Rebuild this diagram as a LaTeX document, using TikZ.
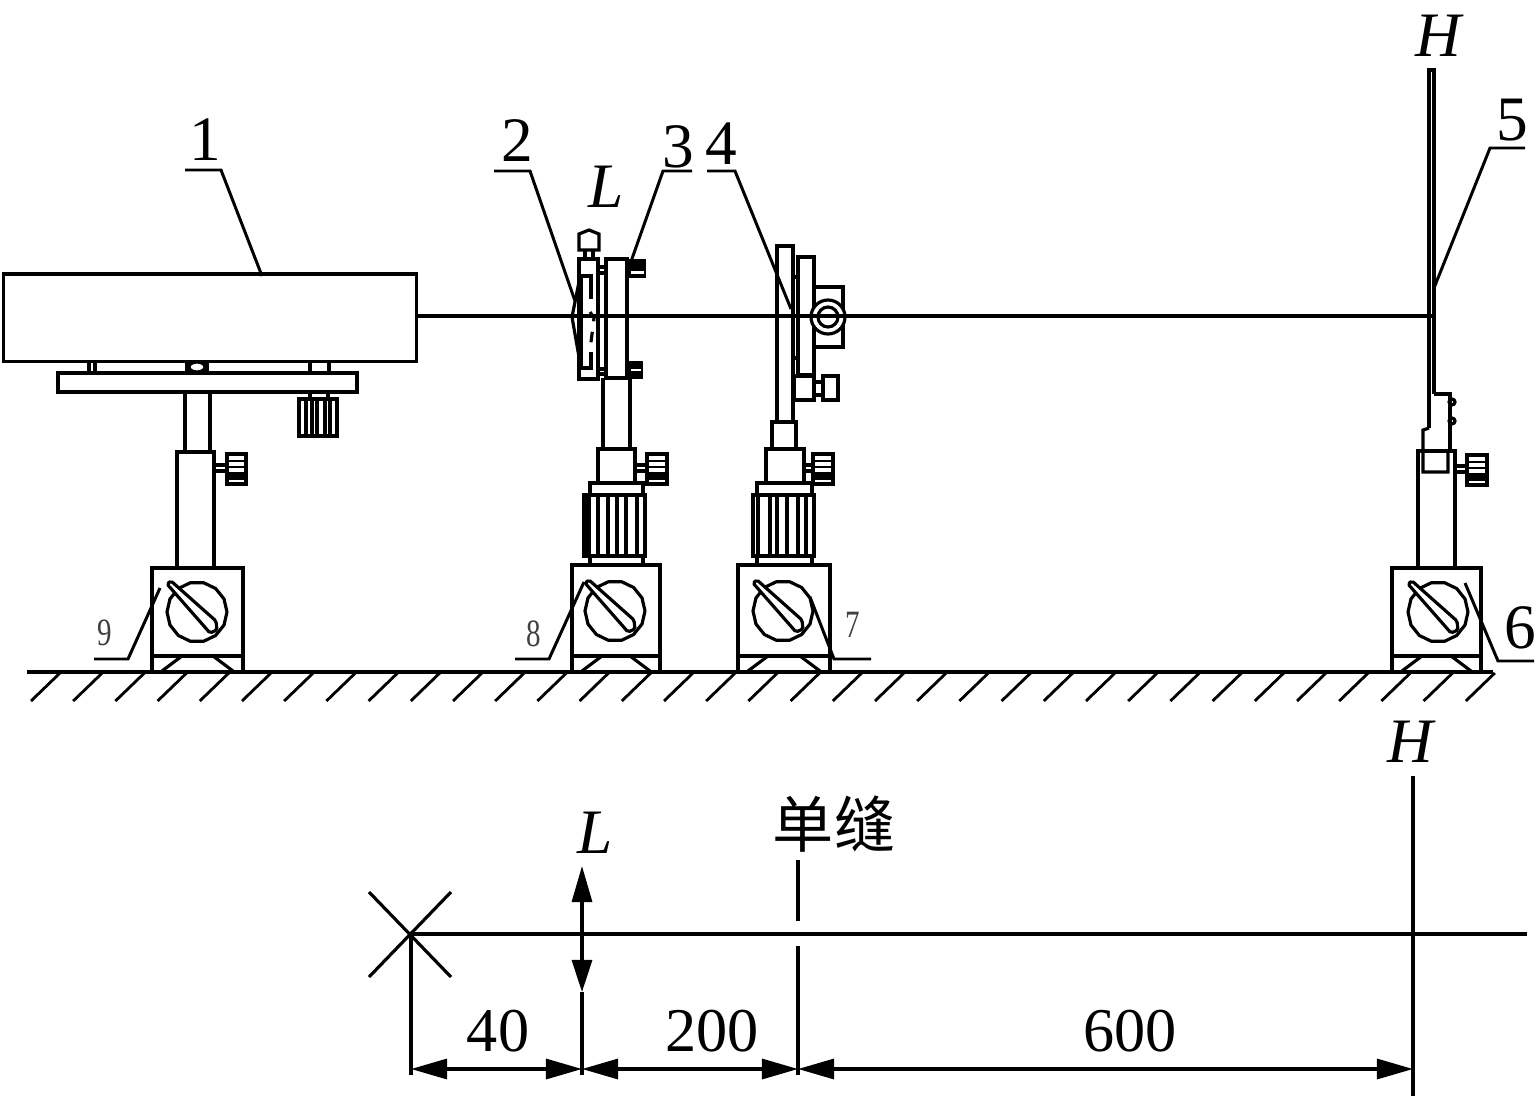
\documentclass[tikz,border=0pt]{standalone}
\usepackage{fontspec}
\setmainfont{Liberation Serif}
\newfontfamily\cjkfont{Noto Sans CJK SC}
\usetikzlibrary{arrows.meta}

% base block with dial and pointer: left, right, top, dial centre x, dial centre y
\newcommand{\magbase}[5]{
  \draw[part] (#1,#3) rectangle (#2,672);
  \draw[part] (#1,656) -- (#2,656);
  \draw[part] (#1+10,671) -- (#1+30,656);
  \draw[part] (#2-30,656) -- (#2-10,671);
  \draw[part, shift={(#4,#5)}] plot[samples=15, domain=0:360] ({30*cos(\x)},{30*sin(\x)});
  \draw[part, fill=white, shift={(#4,#5)}, rounded corners=0.5pt] (-30,-28) -- (-26,-31) -- (19,9)
    -- (20,18) -- (13,21) -- cycle;
}
% knob on the side of a stand: stem start x, knob left x, knob right x, top y
\newcommand{\sideknob}[4]{
  \draw[part] (#1,#4+11) -- (#2,#4+11) (#1,#4+17) -- (#2,#4+17);
  \draw[part] (#2,#4) rectangle (#3,#4+30);
  \foreach \k in {7,13,19,25} \draw[thinpart] (#2,#4+\k) -- (#3,#4+\k);
  \fill (#2,#4+20) rectangle (#3,#4+25);
}
% ribbed ring of a stand: left, right, then the rib positions
\newcommand{\ribring}[3]{
  \draw[part] (#1,495) rectangle (#2,556);
  \foreach \k in {#3} \draw[part] (\k,495) -- (\k,556);
}

\begin{document}
\begin{tikzpicture}[
    x=0.01cm, y=-0.01cm,
    line join=miter,
    part/.style={draw, line width=0.9pt},
    thinpart/.style={draw, line width=0.8pt},
    leader/.style={draw, line width=0.85pt},
    tag/.style={font=\fontsize{18}{20}\selectfont, inner sep=0pt},
    dimtext/.style={font=\fontsize{17.7}{20}\selectfont, inner sep=0pt},
    smalltag/.style={font=\fontsize{11}{12}\selectfont, inner sep=0pt, xscale=0.75, transform shape, text=black!75},
    dimline/.style={draw, line width=0.9pt, {Triangle[length=0.36cm, width=0.2cm]}-{Triangle[length=0.36cm, width=0.2cm]}}
]
\useasboundingbox (0,0) rectangle (1536,1097);

% Ground
\coordinate (groundL) at (27,672);
\coordinate (groundR) at (1493,672);
\draw[part] (groundL) -- (groundR);
\foreach \k in {0,...,34} \draw[thinpart] ({60+42.2*\k},673) -- ({31+42.2*\k},701);

% Laser
\node[part, minimum width=4.13cm, minimum height=0.87cm, inner sep=0pt, anchor=north west] (laser) at (1.5,272.5) {};
\draw[part] (58,373) rectangle (357,392);
\draw[part] (89,361) -- (89,373) (95,361) -- (95,373);
\draw[part] (187,361) -- (187,373) (207,361) -- (207,373);
\draw[part] (197,367) ellipse (8 and 5);
\draw[part] (310,361) -- (310,373) (329,361) -- (329,373);
\draw[part] (310,392) -- (310,399) (328,392) -- (328,399);
\draw[part] (299,399) rectangle (337,436);
\foreach \k in {306,312,317,325,330} \draw[part] (\k,399) -- (\k,436);
\draw[part] (185,392) -- (185,452) (210,392) -- (210,452);
\draw[part] (177,568) -- (177,452) -- (214,452) -- (214,568);
\sideknob{214}{227}{246}{454}
\magbase{152}{243}{568}{197}{612}

% Lens stand
\draw[part] (579,259) rectangle (598,379);
\draw[part] (606,259) rectangle (627,378);
\draw[part] (579,282) -- (572,317) -- (579,357);
\draw[part] (581,276) -- (591,276) -- (591,299);
\draw[part] (581,276) -- (581,368) -- (591,368) -- (591,352);
\draw[part, dashed] (590,312) -- (594,318) -- (590,350);
\draw[part] (579,234) -- (589,230) -- (599,234) -- (599,250) -- (579,250) -- cycle;
\draw[part] (585,250) -- (585,259) (593,250) -- (593,259);
\draw[part] (598,267) -- (606,267) (598,273) -- (606,273);
\draw[part] (598,369) -- (606,369) (598,374) -- (606,374);
\fill (628,259) rectangle (646,278);
\fill[white] (631,271) rectangle (644,274);
\fill (628,361) rectangle (643,379);
\fill[white] (631,369) rectangle (641,371);
\draw[part] (603,378) -- (603,449) (630,378) -- (630,449);
\draw[part] (598,449) rectangle (635,483);
\sideknob{635}{647}{667}{454}
\draw[part] (590,483) rectangle (643,495);
\ribring{584}{645}{589,598,608,617,626,637}
\fill (584,497) rectangle (589,554);
\draw[part] (590,556) -- (590,565) (643,556) -- (643,565);
\magbase{572}{660}{565}{615}{611}

% Slit stand
\draw[part] (777,246) rectangle (793,422);
\draw[part] (798,257) rectangle (814,375);
\draw[part] (793,277) -- (798,277) (793,358) -- (798,358);
\draw[part] (814,287) -- (843,287) -- (843,347) -- (814,347);
\draw[part, fill=white] (828,317) circle (17);
\draw[part] (828,317) circle (10);
\draw[part] (794,376) rectangle (814,400);
\draw[part] (814,382) rectangle (823,395);
\draw[part] (823,376) rectangle (838,400);
\draw[part] (772,449) -- (772,422) -- (796,422) -- (796,449);
\draw[part] (766,449) rectangle (804,483);
\sideknob{804}{813}{833}{454}
\draw[part] (757,483) rectangle (812,495);
\ribring{753}{814}{758,770,777,787,798,806}
\draw[part] (757,556) -- (757,565) (812,556) -- (812,565);
\magbase{738}{830}{565}{783}{611}

% Screen stand
\draw[part] (1429,428) -- (1429,70) -- (1434,70) -- (1434,394);
\draw[part] (1429,428) -- (1423,430) -- (1423,472) -- (1448,472) -- (1448,451);
\draw[part] (1434,394) -- (1450,394) -- (1450,451);
\draw[part] (1452,402) circle (3) (1452,421) circle (3);
\draw[part] (1418,568) -- (1418,451) -- (1455,451) -- (1455,568);
\sideknob{1455}{1467}{1487}{455}
\magbase{1392}{1481}{568}{1438}{612}

% Beam
\coordinate (beamEnd) at (1432,316);
\draw[part] (laser.east |- beamEnd) -- (beamEnd);

% Part numbers
\node[tag] (tag1) at (205,140) {1};
\node[tag] (tag2) at (517,141) {2};
\node[tag] (tag3) at (678,147) {3};
\node[tag] (tag4) at (721,144) {4};
\node[tag] (tag5) at (1512,120) {5};
\node[tag] (tag6) at (1520,628) {6};
\node[smalltag] (tag7) at (853,625) {7};
\node[smalltag] (tag8) at (534,634) {8};
\node[smalltag] (tag9) at (105,633) {9};
\node[tag] (labelL) at (606,187) {\itshape L};
\node[tag] (labelH) at (1438,36) {\itshape H};

% Leaders
\coordinate (tip1) at (262,276);
\coordinate (tip2) at (575,301);
\coordinate (tip3) at (628,270);
\coordinate (tip4) at (791,309);
\coordinate (tip5) at (1434,288);
\coordinate (tip6) at (1465,583);
\coordinate (tip7) at (810,597);
\coordinate (tip8) at (584,582);
\coordinate (tip9) at (160,588);
\draw[leader] (185,170) -- (221,170) -- (tip1);
\draw[leader] (494,171) -- (530,171) -- (tip2);
\draw[leader] (692,171) -- (663,171) -- (tip3);
\draw[leader] (707,171) -- (735,171) -- (tip4);
\draw[leader] (1525,148) -- (1490,148) -- (tip5);
\draw[leader] (1534,661) -- (1498,661) -- (tip6);
\draw[leader] (871,659) -- (834,659) -- (tip7);
\draw[leader] (515,659) -- (549,659) -- (tip8);
\draw[leader] (94,659) -- (128,659) -- (tip9);

% Layout scheme
\coordinate (source) at (411,934);
\coordinate (axisEnd) at (1527,934);
\coordinate (lens) at (582,934);
\coordinate (slit) at (798,934);
\coordinate (screen) at (1413,934);
\coordinate (dimA) at (411,1069);
\coordinate (dimB) at (582,1069);
\coordinate (dimC) at (798,1069);
\coordinate (dimD) at (1413,1069);
\draw[part] (source) -- (axisEnd);
\draw[part] (369,892) -- (451,977) (369,977) -- (451,892);
\draw[part] (source) -- (411,1075);
\draw[part, -{Triangle[length=0.36cm, width=0.2cm]}] (lens) -- (582,866);
\draw[part, -{Triangle[length=0.32cm, width=0.2cm]}] (lens) -- (582,992);
\draw[part] (582,992) -- (582,1075);
\draw[part] (798,860) -- (798,921);
\draw[part] (798,946) -- (798,1075);
\draw[part] (1413,776) -- (1413,1096);
\draw[dimline] (dimA) -- (dimB);
\draw[dimline] (dimB) -- (dimC);
\draw[dimline] (dimC) -- (dimD);
\node[dimtext] (dim40) at (498,1031) {40};
\node[dimtext] (dim200) at (712,1031) {200};
\node[dimtext] (dim600) at (1130,1031) {600};
\node[tag] (labelL2) at (595,833) {\itshape L};
\node[tag] (labelH2) at (1410,742) {\itshape H};
\node[font=\fontsize{17.4}{18}\selectfont\cjkfont, inner sep=0pt] (labelSlit) at (834,824) {单缝};

\end{tikzpicture}
\end{document}
